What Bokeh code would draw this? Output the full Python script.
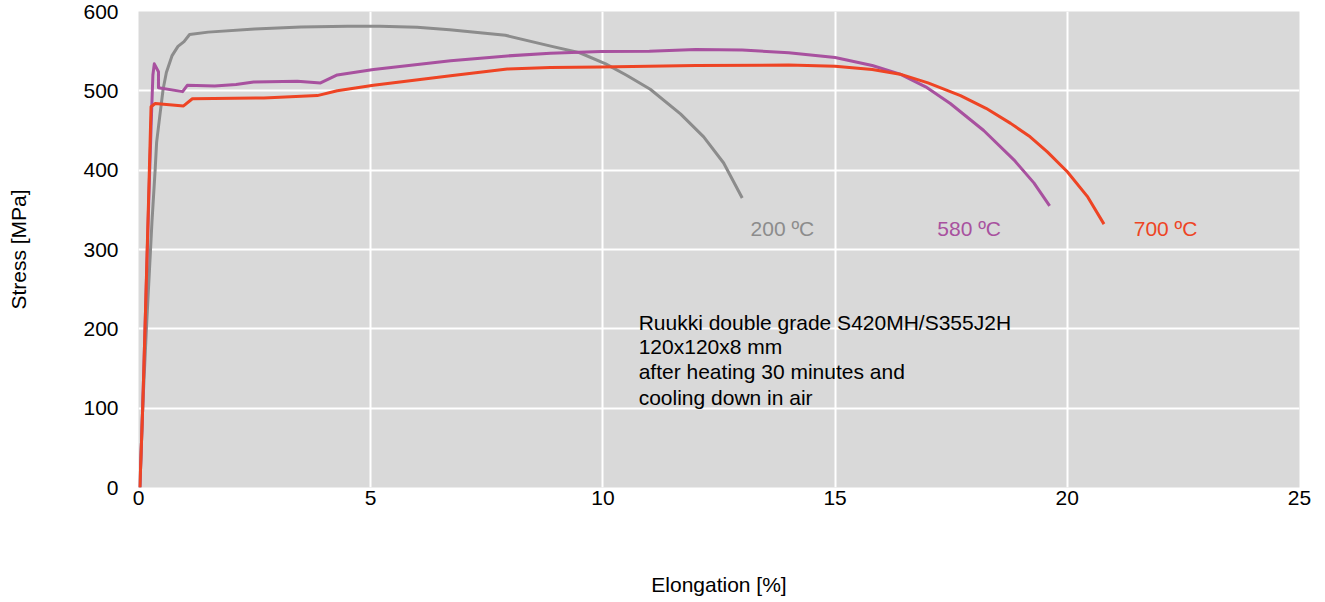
from bokeh.plotting import figure
from bokeh.models import Label, SingleIntervalTicker
from bokeh.embed import file_html
from bokeh.resources import INLINE

# Stress-strain curves after heating 30 min and air cooling
elong_200 = [0.03, 0.09, 0.17, 0.29, 0.36, 0.39, 0.46, 0.53, 0.60, 0.72, 0.85, 0.98, 1.10,
             1.5, 2.5, 3.5, 4.5, 5.2, 6.0, 6.7, 7.9, 8.9, 9.5, 10.06, 10.5, 11.02, 11.67,
             12.17, 12.6, 13.0]
stress_200 = [0, 100, 200, 335, 402, 435, 469, 502, 523, 544, 556, 562, 571,
              574, 578, 580.5, 581.5, 581.5, 580, 577, 570, 556, 548, 534, 520, 502, 471,
              442, 409, 365]

elong_580 = [0.03, 0.09, 0.14, 0.22, 0.28, 0.31, 0.34, 0.43, 0.43, 0.95, 1.05, 1.64, 2.1,
             2.48, 3.42, 3.92, 4.28, 5.06, 6.72, 7.94, 8.87, 9.95, 11.0, 12.0, 13.0, 14.0,
             15.0, 15.8, 16.4, 16.95, 17.48, 18.2, 18.85, 19.28, 19.62]
stress_580 = [0, 100, 200, 360, 470, 520, 534, 524, 504, 499, 507, 506, 508,
              511, 512, 510, 520, 527, 538, 544, 547.5, 549.5, 550, 552, 551.5, 548,
              542, 532, 521, 505, 484, 450, 413, 384, 355]

elong_700 = [0.03, 0.09, 0.14, 0.215, 0.27, 0.36, 0.97, 1.16, 2.7, 3.85, 4.28, 5.06, 6.72,
             7.94, 8.87, 9.95, 12.0, 14.0, 15.0, 15.8, 16.4, 17.0, 17.7, 18.25, 18.78,
             19.2, 19.57, 20.0, 20.43, 20.79]
stress_700 = [0, 100, 200, 359, 480, 484, 481, 490, 491, 494, 500, 507, 519,
              527.5, 529.5, 530, 532, 532.5, 531, 527, 521, 510, 494, 478, 459,
              442, 423, 398, 367, 332]

series = [
    ("200 ºC", elong_200, stress_200, "#8c8c8c", 13.18),
    ("580 ºC", elong_580, stress_580, "#a8519f", 17.2),
    ("700 ºC", elong_700, stress_700, "#ee4424", 21.43),
]

note_lines = [
    "Ruukki double grade S420MH/S355J2H",
    "120x120x8 mm",
    "after heating 30 minutes and",
    "cooling down in air",
]
note_y = [208.5, 177.2, 145.8, 113.2]

FONT = "Liberation Sans"
FS = "21px"

p = figure(width=1325, height=602, x_range=(0, 25), y_range=(0, 600),
           output_backend="svg", toolbar_location=None,
           min_border_left=138, min_border_right=26, min_border_top=11,
           min_border_bottom=115)
p.background_fill_color = "#d9d9d9"
p.border_fill_color = "white"
p.outline_line_color = None

p.xaxis.ticker = SingleIntervalTicker(interval=5)
p.yaxis.ticker = SingleIntervalTicker(interval=100)
for ax in (p.xaxis[0], p.yaxis[0]):
    ax.axis_line_color = None
    ax.major_tick_line_color = None
    ax.minor_tick_line_color = None
    ax.major_tick_out = 0
    ax.major_tick_in = 0
    ax.minor_tick_out = 0
    ax.minor_tick_in = 0
    ax.major_label_text_font = FONT
    ax.major_label_text_font_size = FS
    ax.major_label_text_color = "#000000"
    ax.axis_label_text_font = FONT
    ax.axis_label_text_font_size = FS
    ax.axis_label_text_font_style = "normal"
    ax.axis_label_text_color = "#000000"

p.xaxis.axis_label = "Elongation [%]"
p.yaxis.axis_label = "Stress [MPa]"
p.xaxis.major_label_standoff = 3
p.xaxis.axis_label_standoff = 65
p.yaxis.major_label_standoff = 20
p.yaxis.axis_label_standoff = 50

p.grid.grid_line_color = "white"
p.grid.grid_line_width = 2

for name, xs, ys, color, lx in series:
    p.line(xs, ys, line_color=color, line_width=3, line_join="round")
    p.add_layout(Label(x=lx, y=326.5, text=name, text_color=color,
                       text_font=FONT, text_font_size=FS, text_baseline="middle"))

for txt, yy in zip(note_lines, note_y):
    p.add_layout(Label(x=10.77, y=yy, text=txt, text_color="#000000",
                       text_font=FONT, text_font_size=FS, text_baseline="middle"))

open("out.html", "w").write(file_html(p, INLINE))
